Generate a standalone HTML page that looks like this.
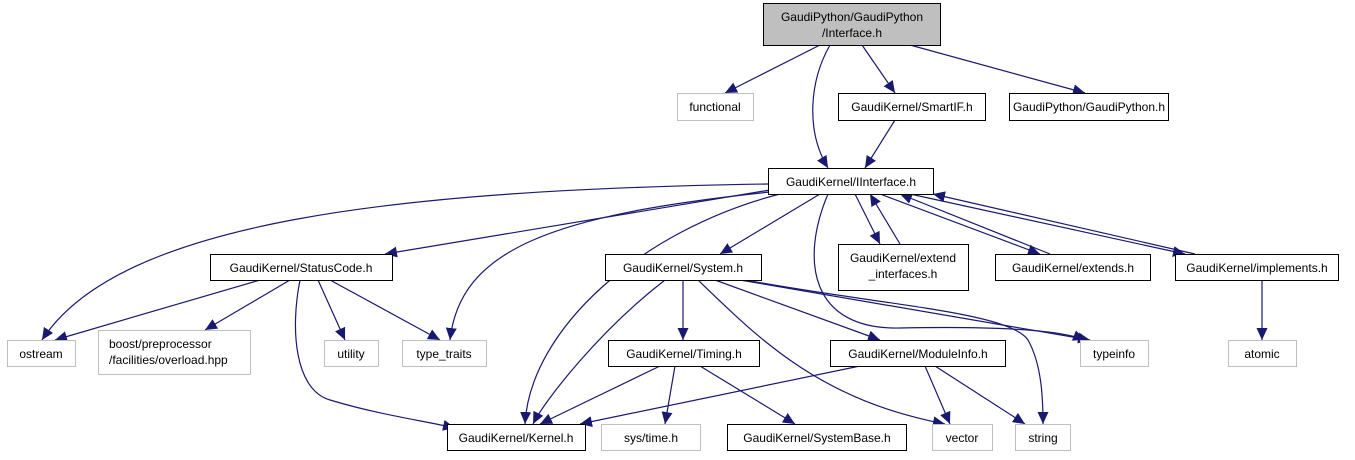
<!DOCTYPE html>
<html><head><meta charset="utf-8"><style>
body{margin:0;background:#fff;width:1355px;height:455px;overflow:hidden}
svg text{font-family:"Liberation Sans",sans-serif;font-size:12px;text-anchor:middle}
</style></head><body>
<svg width="1355" height="455" viewBox="0 0 1355 455" xmlns="http://www.w3.org/2000/svg">
<defs><marker id="a" markerUnits="userSpaceOnUse" markerWidth="13" markerHeight="11" refX="12" refY="5.5" orient="auto"><path d="M0,0L12,5.5L0,11z" fill="#191970"/></marker></defs>
<g fill="none" stroke="#191970" stroke-width="1.2" marker-end="url(#a)">
<path d="M820,45L725,93"/>
<path d="M830,45C810,80 805,130 828,168"/>
<path d="M862,45L895,93"/>
<path d="M910,45L1085,93"/>
<path d="M895,120L865,168"/>
<path d="M768,184C400,190 120,220 42,340"/>
<path d="M770,190L385,254"/>
<path d="M770,192C550,215 460,250 450,340"/>
<path d="M780,194C640,230 530,330 525,424"/>
<path d="M820,194L720,254"/>
<path d="M828,194C800,260 810,330 900,328C1000,326 1060,330 1085,340"/>
<path d="M855,194L880,244"/>
<path d="M900,244L870,194"/>
<path d="M880,194L1040,254"/>
<path d="M1050,254L900,194"/>
<path d="M910,194L1185,254"/>
<path d="M1195,254L933,194"/>
<path d="M1262,280L1262,340"/>
<path d="M260,280L55,340"/>
<path d="M290,280L205,330"/>
<path d="M318,280L345,340"/>
<path d="M330,280L440,340"/>
<path d="M300,280C290,330 295,390 330,400C380,415 420,420 455,428"/>
<path d="M665,280C600,330 545,400 533,424"/>
<path d="M683,280L683,340"/>
<path d="M698,280C760,340 820,400 945,424"/>
<path d="M715,280L880,340"/>
<path d="M740,280L1090,340"/>
<path d="M745,280C880,305 1010,312 1028,340C1042,365 1043,400 1043,424"/>
<path d="M660,366L540,424"/>
<path d="M675,366L665,424"/>
<path d="M700,366L795,424"/>
<path d="M860,366L580,424"/>
<path d="M925,366L950,424"/>
<path d="M935,366L1025,424"/>
</g>
<g stroke-width="1">
<rect x="763.5" y="3.5" width="177" height="42" fill="#bfbfbf" stroke="#000"/>
<g fill="#fff" stroke="#000">
<rect x="838.5" y="93.5" width="147" height="27"/>
<rect x="1009.5" y="93.5" width="159" height="27"/>
<rect x="768.5" y="168.5" width="165" height="26"/>
<rect x="210.5" y="254.5" width="182" height="26"/>
<rect x="605.5" y="254.5" width="156" height="26"/>
<rect x="838.5" y="244.5" width="130" height="46"/>
<rect x="995.5" y="254.5" width="155" height="26"/>
<rect x="1175.5" y="254.5" width="163" height="26"/>
<rect x="608.5" y="340.5" width="151" height="26"/>
<rect x="830.5" y="340.5" width="175" height="26"/>
<rect x="447.5" y="424.5" width="138" height="26"/>
<rect x="727.5" y="424.5" width="179" height="26"/>
</g>
<g fill="#fff" stroke="#bfbfbf">
<rect x="677.5" y="93.5" width="76" height="27"/>
<rect x="7.5" y="340.5" width="68" height="26"/>
<rect x="98.5" y="330.5" width="152" height="44"/>
<rect x="324.5" y="340.5" width="54" height="26"/>
<rect x="402.5" y="340.5" width="84" height="26"/>
<rect x="1080.5" y="340.5" width="68" height="26"/>
<rect x="1228.5" y="340.5" width="68" height="26"/>
<rect x="601.5" y="424.5" width="99" height="26"/>
<rect x="932.5" y="424.5" width="60" height="26"/>
<rect x="1015.5" y="424.5" width="55" height="26"/>
</g>
</g>
<g fill="#000">
<text x="852" y="21">GaudiPython/GaudiPython</text>
<text x="852" y="37">/Interface.h</text>
<text x="715" y="111">functional</text>
<text x="912" y="111">GaudiKernel/SmartIF.h</text>
<text x="1089" y="111">GaudiPython/GaudiPython.h</text>
<text x="851" y="186">GaudiKernel/IInterface.h</text>
<text x="301" y="272">GaudiKernel/StatusCode.h</text>
<text x="683" y="272">GaudiKernel/System.h</text>
<text x="903" y="262">GaudiKernel/extend</text>
<text x="903" y="278">_interfaces.h</text>
<text x="1073" y="272">GaudiKernel/extends.h</text>
<text x="1257" y="272">GaudiKernel/implements.h</text>
<text x="41" y="358">ostream</text>
<text x="109" y="348" style="text-anchor:start">boost/preprocessor</text>
<text x="109" y="364" style="text-anchor:start">/facilities/overload.hpp</text>
<text x="351" y="358">utility</text>
<text x="444" y="358">type_traits</text>
<text x="684" y="358">GaudiKernel/Timing.h</text>
<text x="918" y="358">GaudiKernel/ModuleInfo.h</text>
<text x="1114" y="358">typeinfo</text>
<text x="1262" y="358">atomic</text>
<text x="516" y="442">GaudiKernel/Kernel.h</text>
<text x="651" y="442">sys/time.h</text>
<text x="817" y="442">GaudiKernel/SystemBase.h</text>
<text x="962" y="442">vector</text>
<text x="1043" y="442">string</text>
</g>
</svg>
</body></html>
